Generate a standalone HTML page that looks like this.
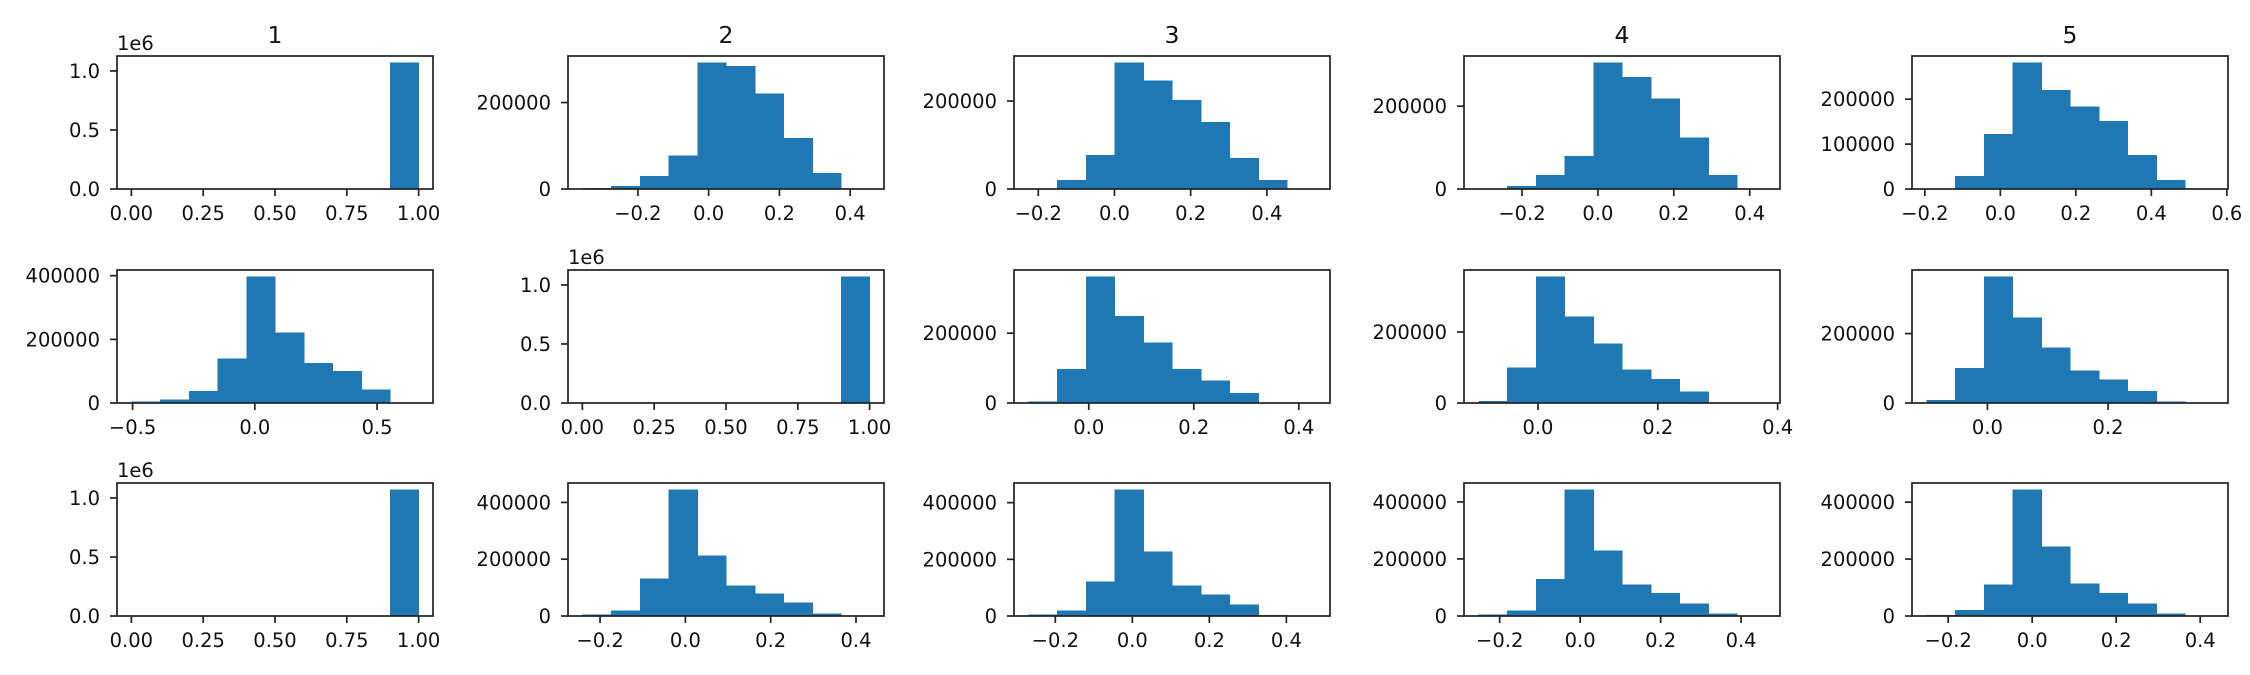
<!DOCTYPE html>
<html>
<head>
<meta charset="utf-8">
<style>
html,body{margin:0;padding:0;background:#fff;}
svg{display:block;font-family:"DejaVu Sans","Liberation Sans",sans-serif;}
</style>
</head>
<body>
<svg id="fig" width="2250" height="675" viewBox="0 0 2250 675" xmlns="http://www.w3.org/2000/svg"></svg>
<script>
// ---- data (row-major, 15 histograms, 10 bins each) ----
const binLo = [0,-0.357,-0.226,-0.315,-0.196, -0.505,0,-0.115,-0.0995,-0.1012, 0,-0.2415,-0.270,-0.253,-0.252];
const binHi = [1,0.455,0.528,0.442,0.565, 0.670,1,0.432,0.380,0.375, 1,0.432,0.476,0.461,0.432];
const counts0 = [0,0,0,0,0,0,0,0,0,1073000];
const counts1 = [2000,7000,30000,78000,293000,284000,221000,118000,37000,1000];
const counts2 = [1000,20000,77000,288000,247000,202000,152000,70000,20000,1000];
const counts3 = [1000,7000,34000,80000,306000,270000,219000,124000,34000,1000];
const counts4 = [1000,29000,122000,282000,220000,184000,151000,76000,20000,1000];
const counts5 = [5000,11000,37000,140000,398000,222000,125000,100000,43000,1000];
const counts6 = [0,0,0,0,0,0,0,0,0,1073000];
const counts7 = [5000,97500,363000,249000,174000,97000,65000,28000,1500,500];
const counts8 = [5000,100000,357000,244000,168000,95000,67000,33000,2000,300];
const counts9 = [8000,101000,365000,247000,160000,94000,68000,34000,4000,300];
const counts10 = [0,0,0,0,0,0,0,0,0,1073000];
const counts11 = [6000,19000,132000,446000,213000,107000,79000,47000,9000,500];
const counts12 = [5000,20000,122000,447000,228000,108000,76000,41000,4000,500];
const counts13 = [5000,20000,129000,444000,230000,111000,80000,44000,9000,500];
const counts14 = [4000,21000,111000,445000,245000,115000,80000,44000,9000,300];
const allCounts = [counts0,counts1,counts2,counts3,counts4,counts5,counts6,counts7,counts8,counts9,counts10,counts11,counts12,counts13,counts14];
const xTicksUnit = [0,0.25,0.5,0.75,1];
const xTicksA = [-0.2,0,0.2,0.4];
const xTicksB = [-0.2,0,0.2,0.4,0.6];
const xTicksC = [-0.5,0,0.5];
const xTicksD = [0,0.2,0.4];
const xTicksE = [0,0.2];
const xTickSets = [xTicksUnit,xTicksA,xTicksA,xTicksA,xTicksB, xTicksC,xTicksUnit,xTicksD,xTicksD,xTicksE, xTicksUnit,xTicksA,xTicksA,xTicksA,xTicksA];
const yStep = [500000,200000,200000,200000,100000, 200000,500000,200000,200000,200000, 500000,200000,200000,200000,200000];
const titles = ["1","2","3","4","5"];

// ---- layout ----
const colLeft = [117,568,1014,1464,1912];
const rowTop = [56,270,483];
const W = 316, H = 133;
const NS = "http://www.w3.org/2000/svg";
const svg = document.getElementById('fig');
function mk(tag, attrs, parent){
  const e = document.createElementNS(NS, tag);
  for (const k in attrs) e.setAttribute(k, attrs[k]);
  (parent||svg).appendChild(e);
  return e;
}
for (let i=0;i<15;i++){
  const r = Math.floor(i/5), c = i%5;
  const L = colLeft[c], T = rowTop[r], B = T+H, R = L+W;
  const lo = binLo[i], hi = binHi[i], cnt = allCounts[i];
  const span = hi-lo, xmin = lo-0.05*span, xmax = hi+0.05*span;
  const ymax = Math.max(...cnt)*1.05;
  const sx = v => L + (v-xmin)/(xmax-xmin)*W;
  const sy = v => B - v/ymax*H;
  const g = mk('g', {});
  
  
  const bw = span/10;
  for (let k=0;k<10;k++){
    if (cnt[k]<=0) continue;
    const x0 = sx(lo+k*bw), x1 = sx(lo+(k+1)*bw), y = sy(cnt[k]);
    const b = mk('rect', {x:x0, y:y, width:x1-x0+0.6, height:B-y, fill:'#1f77b4', 'shape-rendering':'crispEdges'}, g);
    
    
  }
  const frame = mk('rect', {x:L, y:T, width:W, height:H, fill:'none', stroke:'#222', 'stroke-width':1.7}, g);
  
  
  const unit = (xTickSets[i]===xTicksUnit);
  for (const t of xTickSets[i]){
    const x = sx(t);
    if (x < L-1 || x > R+1) continue;
    mk('line', {x1:x, y1:B, x2:x, y2:B+7, stroke:'#222', 'stroke-width':1.7}, g);
    const tx = mk('text', {x:x, y:B+31, 'font-size':19.5, 'text-anchor':'middle', fill:'#111'}, g);
    
    
    tx.textContent = unit ? t.toFixed(2) : t.toFixed(1).replace('-', '\u2212');
  }
  const big = yStep[i]===500000;
  for (let v=0; v<=ymax; v+=yStep[i]){
    const y = sy(v);
    mk('line', {x1:L, y1:y, x2:L-7, y2:y, stroke:'#222', 'stroke-width':1.7}, g);
    const ty = mk('text', {x:L-17, y:y+7, 'font-size':19.5, 'text-anchor':'end', fill:'#111'}, g);
    
    
    ty.textContent = big ? (v/1e6).toFixed(1) : String(v);
  }
  if (big){
    const off = mk('text', {x:L, y:T-6, 'font-size':19.5, fill:'#111'}, g);
    
    
    off.textContent = '1e6';
  }
  if (r===0){
    const tt = mk('text', {x:L+W/2, y:T-13, 'font-size':23.5, 'text-anchor':'middle', fill:'#111'}, g);
    
    
    tt.textContent = titles[c];
  }
}
</script>
</body>
</html>
